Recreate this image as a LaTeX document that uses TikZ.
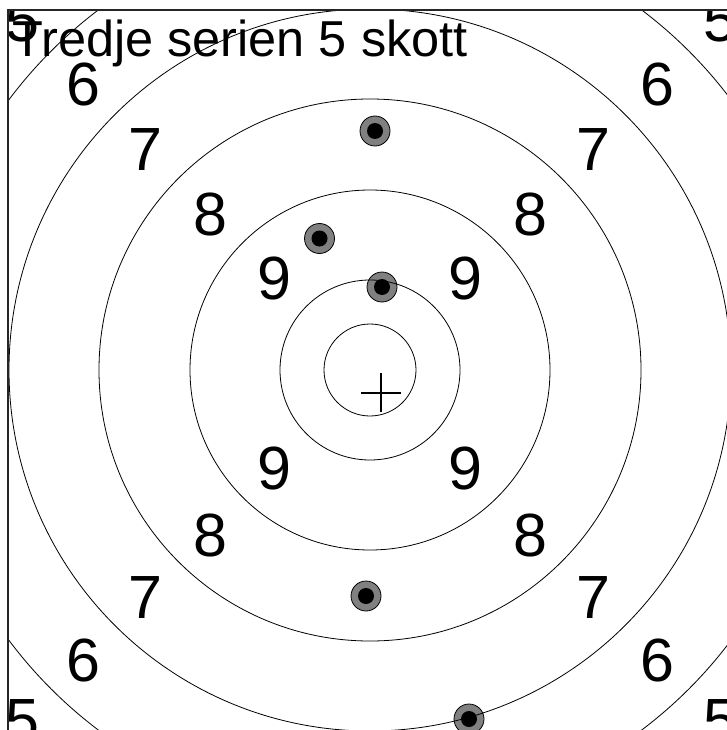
\documentclass[tikz,border=0pt]{standalone}
\usepackage{fontspec}
\setmainfont{Liberation Sans}
\begin{document}
\begin{tikzpicture}[x=1pt,y=-1pt,
  ring/.style={draw=black,line width=0.8pt},
  shot/.style={circle,draw=black,line width=0.8pt,fill=black!50,minimum size=30pt,inner sep=0pt},
  hole/.style={circle,fill=black,minimum size=16pt,inner sep=0pt},
  digit/.style={inner sep=0pt,anchor=center,font=\fontsize{61}{61}\selectfont},
  titlefont/.style={inner sep=0pt,anchor=base west,font=\fontsize{50.5}{50.5}\selectfont}]
\useasboundingbox (0,0) rectangle (726,730);
\fill[white] (0,0) rectangle (726,730);
\begin{scope}
\clip (8,10) rectangle (732,732);
\coordinate (c) at (370,370);
% shots
\foreach \n/\px/\py in {s1/375/131, s2/319.5/238.5, s3/382/287, s4/366/596, s5/469/719}{
  \node[shot] (\n) at (\px,\py) {};
  \node[hole] (\n h) at (\px,\py) {};
}
% rings
\foreach \r in {46,90,180,271,361,451}{
  \draw[ring] (c) circle[radius=\r];
}
% digits
\foreach \d/\px/\py in {9/274/278, 8/210/215, 7/145/150, 6/83/85, 5/22/21,
                        9/465/278, 8/530/215, 7/593/150, 6/657/85, 5/720/21,
                        9/274/468, 8/210/535, 7/145/598, 6/83/660, 5/22/721,
                        9/465/468, 8/530/535, 7/593/598, 6/657/660, 5/720/721}{
  \node[digit] at (\px,\py) {\d};
}
% cross
\coordinate (x) at (381,393);
\draw[line width=1.6pt] ([xshift=-20pt]x) -- ([xshift=20pt]x);
\draw[line width=1.6pt] ([yshift=-19pt]x) -- ([yshift=20pt]x);
\node[titlefont] (title) at (12,57) {Tredje serien 5 skott};
\end{scope}
\draw[line width=1.3pt,draw=black!85] (8,732) -- (8,10) -- (732,10);
\end{tikzpicture}
\end{document}
